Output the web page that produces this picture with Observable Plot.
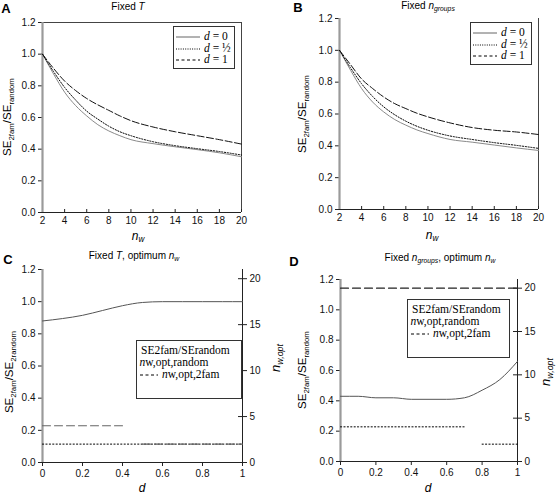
<!DOCTYPE html>
<html><head><meta charset="utf-8">
<script src="https://cdn.jsdelivr.net/npm/d3@7"></script>
<script src="https://cdn.jsdelivr.net/npm/@observablehq/plot@0.6"></script>
<style>
body{margin:0;background:#fff;}
#root{position:relative;width:558px;height:497px;overflow:hidden;font-family:"Liberation Sans",Arial,sans-serif;color:#000;}
.abs{position:absolute;white-space:nowrap;line-height:1;}
.sb{font-size:0.68em;vertical-align:-0.32em;}
.serif{font-family:"Liberation Serif","Times New Roman",serif;}
.box{position:absolute;border:1px solid #333;background:#fff;}
</style></head><body><div id="root"></div>
<script>
// ---------- data ----------
const nwValues = [2,3,4,5,6,7,8,9,10,12,14,16,18,20];
const fixedT_d0    = [1.0,0.875,0.76,0.675,0.61,0.555,0.515,0.485,0.46,0.435,0.415,0.397,0.377,0.352];
const fixedT_dHalf = [1.0,0.89,0.79,0.71,0.64,0.59,0.545,0.51,0.485,0.447,0.422,0.403,0.385,0.363];
const fixedT_d1    = [1.0,0.91,0.83,0.77,0.72,0.68,0.645,0.61,0.58,0.54,0.51,0.485,0.46,0.432];
const fixedG_d0    = [1.0,0.875,0.76,0.675,0.613,0.565,0.53,0.5,0.477,0.44,0.423,0.405,0.387,0.371];
const fixedG_dHalf = [1.0,0.89,0.79,0.71,0.645,0.595,0.555,0.523,0.498,0.462,0.44,0.42,0.403,0.384];
const fixedG_d1    = [1.0,0.91,0.82,0.76,0.707,0.665,0.634,0.605,0.582,0.544,0.515,0.498,0.487,0.471];

const dValues = [0,0.1,0.2,0.3,0.4,0.5,0.6,0.7,0.8,0.9,1];
const optT_se = [0.88,0.895,0.915,0.945,0.975,0.995,1,1,1,1,1];
const optT_nwRandomD = [0,0.1,0.2,0.3,0.4,0.45,0.5,0.6,0.7,0.8,0.9,1];
const optT_nwRandom  = [4,4,4,4,4,null,2,2,2,2,2,2];
const optT_nw2fam    = [2,2,2,2,2,2,2,2,2,2,2];
const optG_se = [0.43,0.43,0.42,0.42,0.41,0.41,0.41,0.42,0.47,0.54,0.66];
const optG_nwRandom  = [20,20,20,20,20,20,20,20,20,20,20];
const optG_nw2famD   = [0,0.1,0.2,0.3,0.4,0.5,0.6,0.7,0.75,0.8,0.9,1];
const optG_nw2fam    = [4,4,4,4,4,4,4,4,null,2,2,2];

const yTicks = [0,0.2,0.4,0.6,0.8,1.0,1.2];
const nwTicks = [2,4,6,8,10,12,14,16,18,20];
const dTicks = [0,0.2,0.4,0.6,0.8,1];
const rightTicks = [0,5,10,15,20];
const rightMax = 21;
const yMax = 1.2;

// ---------- helpers ----------
const root = document.getElementById("root");
const K = yMax / rightMax;
const toLeft = v => (v == null ? NaN : v * K);
const rows = (xs, ys, f = v => v) => xs.map((x, i) => ({x, y: ys[i] == null ? NaN : f(ys[i])}));

function mount(el, left, top) {
  el.style.position = "absolute";
  el.style.left = left + "px";
  el.style.top = top + "px";
  root.appendChild(el);
}
function text(html, x, y, css = "", rot = false, anchor = "middle") {
  const el = document.createElement("div");
  el.className = "abs";
  el.innerHTML = html;
  const tx = anchor === "start" ? "0" : "-50%";
  el.style.cssText += `left:${x}px;top:${y}px;transform:translate(${tx},-50%)${rot ? " rotate(-90deg)" : ""};${css}`;
  root.appendChild(el);
  return el;
}
function box(x, y, w, h) {
  const el = document.createElement("div");
  el.className = "box";
  el.style.cssText += `left:${x}px;top:${y}px;width:${w}px;height:${h}px;`;
  root.appendChild(el);
}
function sample(x, y, w, dash, color = "#000") {
  const ns = "http://www.w3.org/2000/svg";
  const s = document.createElementNS(ns, "svg");
  s.setAttribute("width", w); s.setAttribute("height", 4);
  s.style.position = "absolute"; s.style.left = x + "px"; s.style.top = (y - 2) + "px";
  const l = document.createElementNS(ns, "line");
  l.setAttribute("x1", 0); l.setAttribute("x2", w); l.setAttribute("y1", 2); l.setAttribute("y2", 2);
  l.setAttribute("stroke", color); l.setAttribute("stroke-width", 1);
  if (dash) l.setAttribute("stroke-dasharray", dash);
  s.appendChild(l);
  root.appendChild(s);
}

const style = {fontFamily: "Liberation Sans, Arial, sans-serif", fontSize: "10px", color: "#000", background: "transparent", overflow: "visible"};

function topPanel({left, top, ml, mr, mt, mb, series, topLine}) {
  const W = 279, H = 248;
  const innerH = H - mt - mb;
  return mount(Plot.plot({
    width: W, height: H, marginLeft: ml, marginRight: mr, marginTop: mt, marginBottom: mb,
    style,
    x: {domain: [2, 20]},
    y: {domain: [0, yMax]},
    marks: [
      topLine ? Plot.ruleY([yMax], {stroke: "#444", strokeWidth: 1}) : null,
      Plot.ruleX([20], {stroke: "#444", strokeWidth: 1}),
      Plot.axisY(yTicks, {tickSize: 4, tickPadding: 3, tickFormat: d3.format(".1f"), label: null, stroke: "#222", color: "#111"}),
      Plot.axisX(nwTicks, {tickSize: 0, tickPadding: 4, label: null, color: "#111"}),
      Plot.ruleX(nwTicks, {x: d => d, insetTop: innerH - 3, stroke: "#222"}),
      Plot.ruleY([0], {stroke: "#222"}),
      Plot.ruleX([2], {stroke: "#9a9a9a", strokeWidth: 2.2}),
      Plot.line(rows(nwValues, series[0]), {x: "x", y: "y", stroke: "#8a8a8a", strokeWidth: 1, curve: "monotone-x"}),
      Plot.line(rows(nwValues, series[1]), {x: "x", y: "y", stroke: "#000", strokeWidth: 1, strokeDasharray: "1.2,1.6", curve: "monotone-x"}),
      Plot.line(rows(nwValues, series[2]), {x: "x", y: "y", stroke: "#111", strokeWidth: 1, strokeDasharray: "7,2.5", curve: "monotone-x"})
    ]
  }), left, top);
}

function bottomPanel({left, top, ml, mr, mt, mb, se, randD, rand, famD, fam, randColor}) {
  const W = 279, H = 247;
  const innerW = W - ml - mr;
  const rt = rightTicks.map(toLeft);
  return mount(Plot.plot({
    width: W, height: H, marginLeft: ml, marginRight: mr, marginTop: mt, marginBottom: mb,
    style,
    x: {domain: [0, 1]},
    y: {domain: [0, yMax]},
    marks: [
      Plot.axisY(yTicks, {tickSize: 4, tickPadding: 3, tickFormat: d3.format(".1f"), label: null, stroke: "#222", color: "#111"}),
      Plot.axisY(rt, {anchor: "right", tickSize: 4, tickPadding: 3, tickFormat: d => String(Math.round(d / K)), label: null, stroke: "#222", color: "#111"}),
      Plot.ruleY(rt, {y: d => d, insetLeft: innerW - 4, stroke: "#222"}),
      Plot.axisX(dTicks, {tickSize: 4, tickPadding: 3, tickFormat: d => String(d), label: null, stroke: "#222", color: "#111"}),
      Plot.ruleY([0], {stroke: "#222"}),
      Plot.ruleX([1], {stroke: "#222"}),
      Plot.ruleX([0], {stroke: "#9a9a9a", strokeWidth: 2.2}),
      Plot.line(rows(famD, fam, toLeft), {x: "x", y: "y", stroke: "#000", strokeWidth: 1, strokeDasharray: "1.2,2.2"}),
      Plot.line(rows(randD, rand, toLeft), {x: "x", y: "y", stroke: randColor, strokeWidth: 1.1, strokeDasharray: "8,4"}),
      Plot.line(rows(dValues, se), {x: "x", y: "y", stroke: "#555", strokeWidth: 1, curve: "monotone-x"})
    ]
  }), left, top);
}

// ---------- panels ----------
topPanel({left: 0, top: 0, ml: 42, mr: 38, mt: 22, mb: 36, series: [fixedT_d0, fixedT_dHalf, fixedT_d1], topLine: true});
topPanel({left: 279, top: 0, ml: 60, mr: 20, mt: 18, mb: 39, series: [fixedG_d0, fixedG_dHalf, fixedG_d1], topLine: false});
bottomPanel({left: 0, top: 250, ml: 42, mr: 37, mt: 19, mb: 35, se: optT_se,
  randD: optT_nwRandomD, rand: optT_nwRandom, famD: dValues, fam: optT_nw2fam, randColor: "#666"});
bottomPanel({left: 279, top: 250, ml: 61, mr: 41, mt: 29, mb: 36, se: optG_se,
  randD: dValues, rand: optG_nwRandom, famD: optG_nw2famD, fam: optG_nw2fam, randColor: "#222"});

// ---------- texts ----------
const letter = "font-weight:bold;font-size:13px;";
text("A", 6, 7.5, letter);
text("B", 298, 6.5, letter);
text("C", 8, 259, letter);
text("D", 294, 261, letter);

const ttl = "font-size:10px;";
text('Fixed <i>T</i>', 128, 7, ttl);
text('Fixed <i>n</i><i class="sb">groups</i>', 428, 7, ttl);
text('Fixed <i>T</i>, optimum <i>n</i><i class="sb">w</i>', 134, 257, ttl);
text('Fixed <i>n</i><i class="sb">groups</i>, optimum <i>n</i><i class="sb">w</i>', 440, 259, ttl);

const xl = "font-size:12px;";
text('<i>n</i><i class="sb">w</i>', 138, 237, xl);
text('<i>n</i><i class="sb">w</i>', 432, 236, xl);
text('<i>d</i>', 142, 488, xl);
text('<i>d</i>', 428, 488, xl);

const yl = "font-size:11.5px;";
text('SE<span class="sb">2fam</span>/SE<span class="sb">random</span>', 9, 117, yl, true);
text('SE<span class="sb">2fam</span>/SE<span class="sb">random</span>', 304, 114, yl, true);
text('SE<span class="sb">2fam</span>/SE<span class="sb">2random</span>', 11, 372, yl, true);
text('SE<span class="sb">2fam</span>/SE<span class="sb">random</span>', 304, 370, yl, true);
text('<i>n</i><i class="sb">w,opt</i>', 277, 358, "font-size:13px;", true);
text('<i>n</i><i class="sb">w,opt</i>', 547, 372, "font-size:13px;", true);

// ---------- legends ----------
const lg = "font-size:11.5px;";
function dLegend(x0, y0) {
  box(x0, y0, 60, 41);
  const rowsY = [y0 + 11, y0 + 22.5, y0 + 34];
  sample(x0 + 3, rowsY[0], 24, null, "#666");
  sample(x0 + 3, rowsY[1], 24, "1,1.3");
  sample(x0 + 3, rowsY[2], 24, "3,2.5");
  const labels = ['<i>d</i> = 0', '<i>d</i> = ½', '<i>d</i> = 1'];
  labels.forEach((l, i) => text(l, x0 + 31, rowsY[i], lg, false, "start").classList.add("serif"));
}
dLegend(173, 26);
dLegend(470, 22);

function optLegend(x0, y0, w, h) {
  box(x0, y0, w, h);
  text('SE2fam/SErandom', x0 + 5, y0 + 11, lg, false, "start").classList.add("serif");
  text('<i>n</i>w,opt,random', x0 + 3.5, y0 + 22.5, lg, false, "start").classList.add("serif");
  sample(x0 + 4, y0 + 35, 18, "3,2.5");
  text('<i>n</i>w,opt,2fam', x0 + 26, y0 + 35, lg, false, "start").classList.add("serif");
}
optLegend(136, 340, 104, 57);
optLegend(407, 299, 101, 57);
</script></body></html>
